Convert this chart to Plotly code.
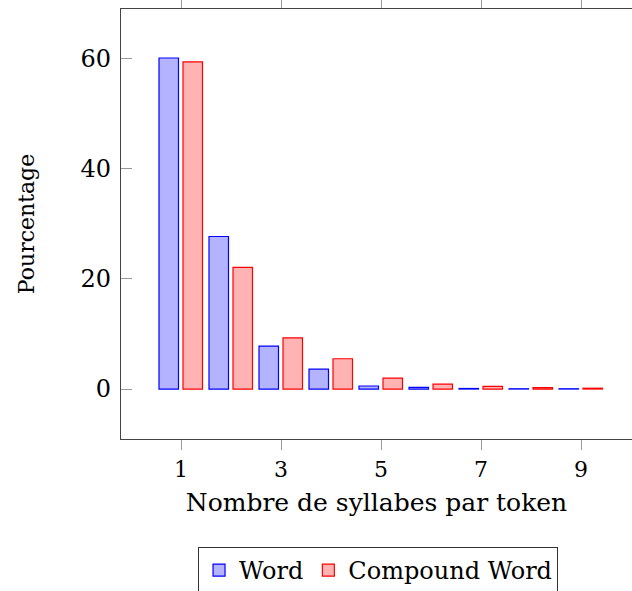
import plotly.graph_objects as go

syllables = [1, 2, 3, 4, 5, 6, 7, 8, 9]
word_pct = [60.1, 27.7, 7.8, 3.6, 0.55, 0.3, 0.1, 0.05, 0.05]
compound_pct = [59.4, 22.1, 9.3, 5.5, 2.0, 0.9, 0.5, 0.25, 0.15]
x_ticks = [1, 3, 5, 7, 9]
y_ticks = [0, 20, 40, 60]

FONT = "DejaVu Serif"

fig = go.Figure()
fig.add_trace(go.Bar(
    x=syllables, y=word_pct, name="Word",
    offset=-0.44, width=0.39,
    marker=dict(color="#b3b3ff", line=dict(color="#0000ff", width=1.2)),
))
fig.add_trace(go.Bar(
    x=syllables, y=compound_pct, name="Compound Word",
    offset=0.04, width=0.39,
    marker=dict(color="#ffb3b3", line=dict(color="#ff0000", width=1.2)),
))

fig.update_layout(
    width=632, height=591,
    margin=dict(l=121, r=0, t=9, b=152, autoexpand=False),
    paper_bgcolor="white", plot_bgcolor="white",
    font=dict(family=FONT, size=22, color="black"),
    showlegend=True,
    legend=dict(
        orientation="h", x=0.503, xanchor="center", y=-0.251, yanchor="top",
        bordercolor="#333", borderwidth=1, font=dict(family=FONT, size=24),
        bgcolor="white", itemwidth=30,
    ),
    xaxis=dict(
        range=[-0.2, 10.02], tickvals=x_ticks, ticktext=[str(v) for v in x_ticks],
        ticks="outside", ticklen=10, tickcolor="#999", tickwidth=1,
        showline=True, linecolor="#444", linewidth=1.2, mirror="ticks",
        showgrid=False, zeroline=False, automargin=False,
        title=dict(text="Nombre de syllabes par token", standoff=12,
                   font=dict(family=FONT, size=25)),
        tickfont=dict(family=FONT, size=22),
    ),
    yaxis=dict(
        range=[-9.07, 69.0], tickvals=y_ticks,
        ticks="inside", ticklen=11, tickcolor="#999", tickwidth=1,
        showline=True, linecolor="#444", linewidth=1.2,
        showgrid=False, zeroline=False, automargin=False,
        ticklabelstandoff=4,
        title=dict(text="Pourcentage", standoff=39, font=dict(family=FONT, size=22)),
        tickfont=dict(family=FONT, size=24),
    ),
    yaxis2=dict(
        overlaying="y", side="right", range=[-9.07, 69.0],
        tickvals=y_ticks, ticks="inside", ticklen=4, tickcolor="#999",
        showticklabels=False, showline=False, showgrid=False, zeroline=False,
        automargin=False,
    ),
)

fig.write_html("out.html", config={"displayModeBar": False},
               post_script="document.body.style.margin='0';")
